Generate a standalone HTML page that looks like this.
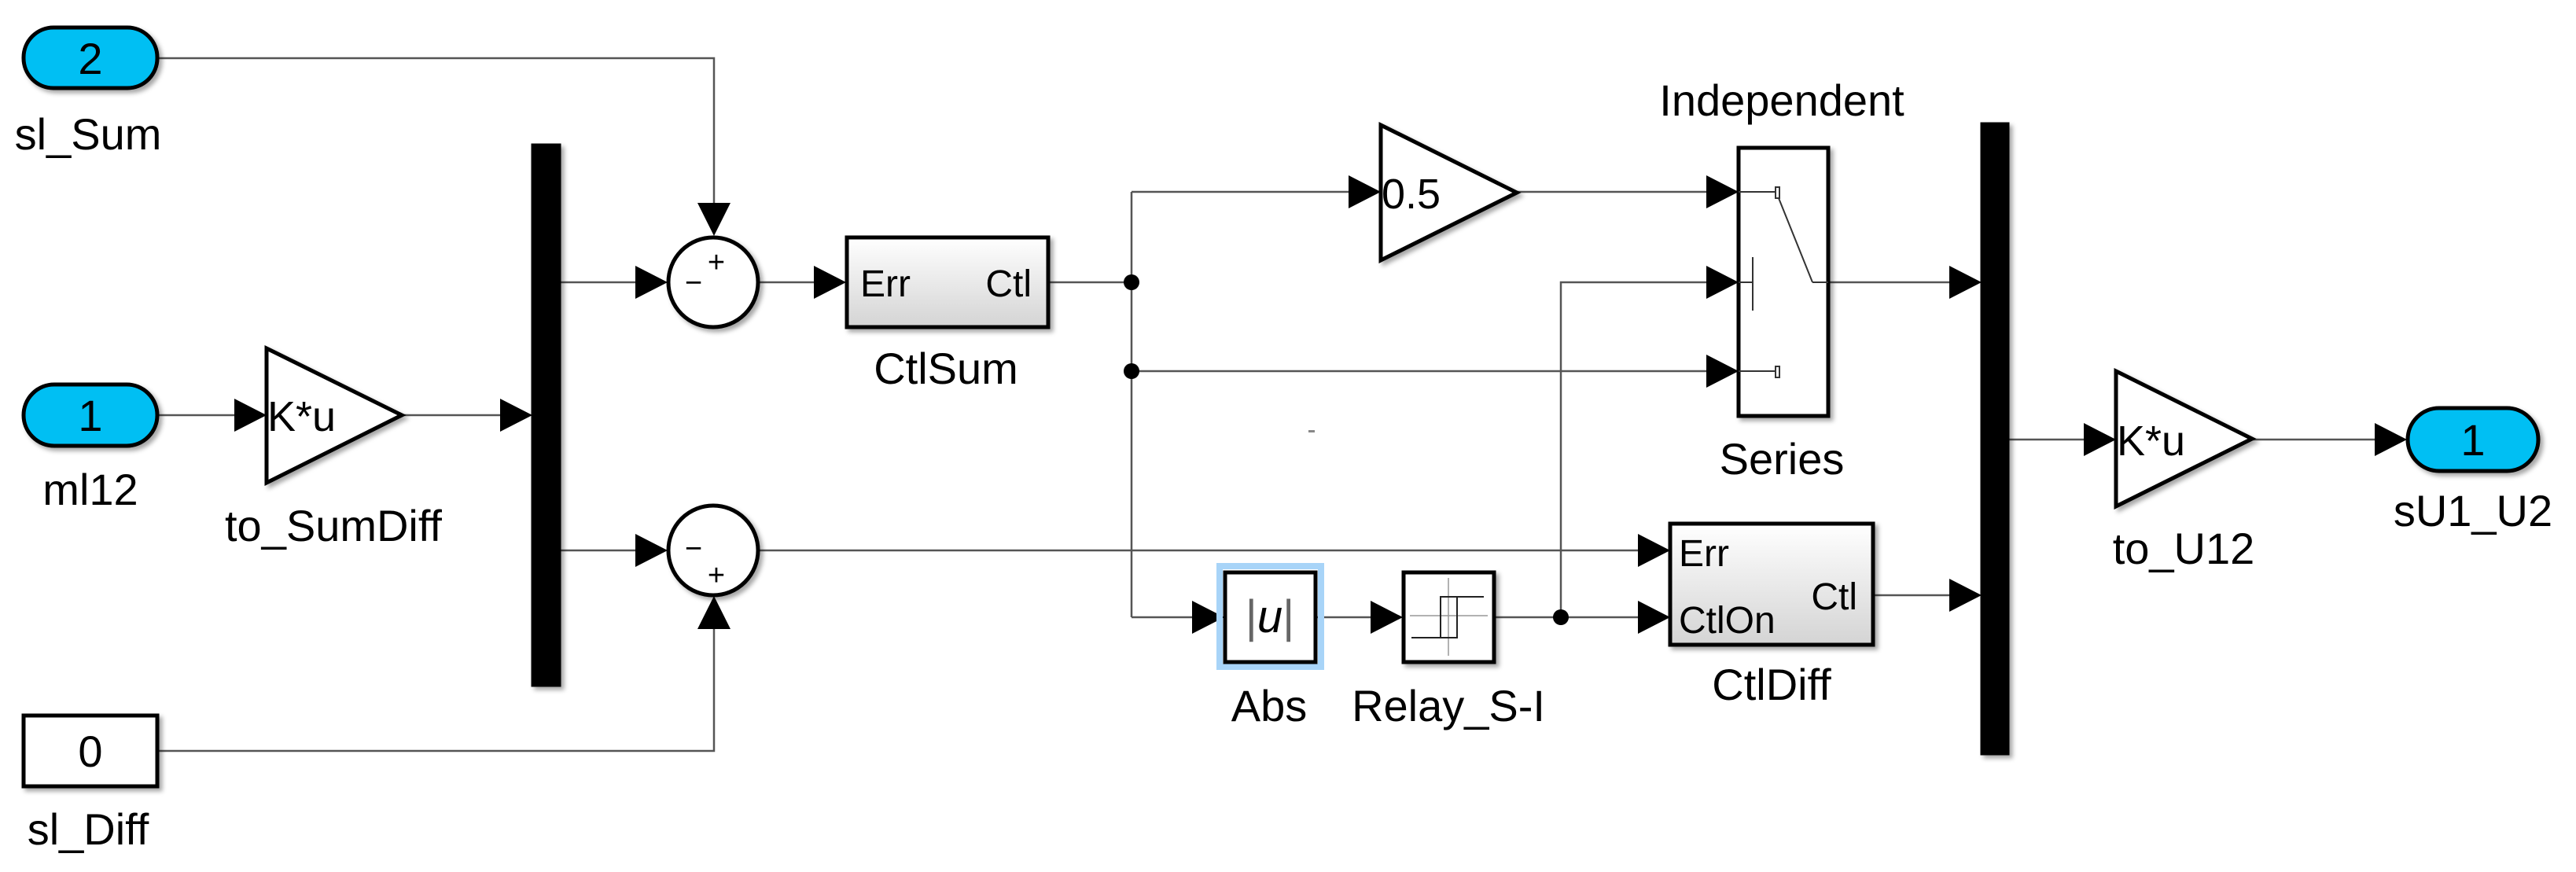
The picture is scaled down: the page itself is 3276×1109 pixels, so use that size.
<!DOCTYPE html>
<html><head><meta charset="utf-8"><style>
html,body{margin:0;padding:0;background:#fff;}
svg{display:block;}
text{font-family:"Liberation Sans",Arial,sans-serif;}
</style></head><body>
<svg width="3276" height="1109" viewBox="0 0 3276 1109" xmlns="http://www.w3.org/2000/svg">
<defs>
<linearGradient id="g" x1="0" y1="0" x2="0" y2="1"><stop offset="0" stop-color="#ffffff"/><stop offset="1" stop-color="#d4d4d4"/></linearGradient>
<filter id="sh" x="-10%" y="-10%" width="130%" height="130%"><feDropShadow dx="4" dy="4" stdDeviation="3" flood-color="#000" flood-opacity="0.35"/></filter>
</defs>
<g fill="none" stroke="#555" stroke-width="2.5">
<polyline points="200,74 908,74 908,262"/>
<line x1="200" y1="528" x2="300" y2="528"/>
<line x1="511" y1="528" x2="638" y2="528"/>
<line x1="711" y1="359" x2="810" y2="359"/>
<line x1="711" y1="700" x2="810" y2="700"/>
<polyline points="200,955 908,955 908,795"/>
<line x1="965" y1="359" x2="1037" y2="359"/>
<line x1="1333" y1="359" x2="1439" y2="359"/>
<line x1="1439" y1="244" x2="1439" y2="785"/>
<line x1="1439" y1="244" x2="1717" y2="244"/>
<line x1="1439" y1="472" x2="2172" y2="472"/>
<line x1="1439" y1="785" x2="1518" y2="785"/>
<line x1="1929" y1="244" x2="2172" y2="244"/>
<line x1="965" y1="700" x2="2085" y2="700"/>
<line x1="1673" y1="785" x2="1745" y2="785"/>
<line x1="1900" y1="785" x2="2085" y2="785"/>
<polyline points="1985,785 1985,359 2172,359"/>
<line x1="2305" y1="359" x2="2481" y2="359"/>
<line x1="2382" y1="757" x2="2481" y2="757"/>
<line x1="2553" y1="559" x2="2652" y2="559"/>
<line x1="2864" y1="559" x2="3022" y2="559"/>
</g>
<g fill="#000">
<polygon points="887,258 929,258 908,300"/>
<polygon points="298,507 339,528 298,549"/>
<polygon points="636,507 677,528 636,549"/>
<polygon points="808,338 849,359 808,380"/>
<polygon points="808,679 849,700 808,721"/>
<polygon points="887,800 929,800 908,758"/>
<polygon points="1035,338 1076,359 1035,380"/>
<polygon points="1715,223 1756,244 1715,265"/>
<polygon points="2170,223 2211,244 2170,265"/>
<polygon points="2170,338 2211,359 2170,380"/>
<polygon points="2170,451 2211,472 2170,493"/>
<polygon points="1516,764 1557,785 1516,806"/>
<polygon points="1743,764 1784,785 1743,806"/>
<polygon points="2083,679 2124,700 2083,721"/>
<polygon points="2083,764 2124,785 2083,806"/>
<polygon points="2479,338 2520,359 2479,380"/>
<polygon points="2479,736 2520,757 2479,778"/>
<polygon points="2650,538 2691,559 2650,580"/>
<polygon points="3020,538 3061,559 3020,580"/>
<circle cx="1439" cy="359" r="10"/>
<circle cx="1439" cy="472" r="10"/>
<circle cx="1985" cy="785" r="10"/>
<rect x="1664" y="547" width="8" height="3" fill="#888"/>
</g>
<g stroke="#000" stroke-width="5" filter="url(#sh)">
<rect x="30" y="35" width="170" height="77" rx="38" fill="#00bff3"/>
<rect x="30" y="489" width="170" height="78" rx="39" fill="#00bff3"/>
<rect x="30" y="910" width="170" height="90" fill="#fff"/>
<rect x="3062" y="519" width="166" height="80" rx="40" fill="#00bff3"/>
<rect x="678" y="185" width="33" height="686" fill="#000"/>
<rect x="2521" y="158" width="32" height="800" fill="#000"/>
<circle cx="907" cy="359" r="57" fill="#fff"/>
<circle cx="907" cy="700" r="57" fill="#fff"/>
<polygon points="339,443 511,528 339,614" fill="#fff"/>
<polygon points="1756,159 1929,245 1756,331" fill="#fff"/>
<polygon points="2691,472 2864,558 2691,644" fill="#fff"/>
<rect x="1077" y="302" width="256" height="114" fill="url(#g)"/>
<rect x="2124" y="666" width="258" height="154" fill="url(#g)"/>
<rect x="2211" y="188" width="114" height="341" fill="#fff"/>
<rect x="1785" y="728" width="115" height="114" fill="#fff"/>
</g>
<rect x="1551" y="720" width="129" height="128" fill="none" stroke="#a8d4f8" stroke-width="8"/>
<rect x="1558" y="728" width="115" height="114" fill="#fff" stroke="#000" stroke-width="5"/>
<g stroke="#333" stroke-width="2" fill="none">
<line x1="2211" y1="244" x2="2258" y2="244"/>
<rect x="2258" y="238" width="5" height="14"/>
<line x1="2211" y1="359" x2="2229" y2="359"/>
<line x1="2229" y1="327" x2="2229" y2="395"/>
<line x1="2211" y1="472" x2="2258" y2="472"/>
<rect x="2258" y="466" width="5" height="14"/>
<line x1="2262" y1="252" x2="2305" y2="359"/>
<line x1="2305" y1="359" x2="2325" y2="359"/>
</g>
<g fill="none">
<line x1="1842" y1="735" x2="1842" y2="834" stroke="#999" stroke-width="1.5"/>
<line x1="1793" y1="783" x2="1892" y2="783" stroke="#999" stroke-width="1.5"/>
<polyline points="1795,811 1853,811 1853,759 1832,759 1832,811" stroke="#222" stroke-width="2"/>
<line x1="1832" y1="759" x2="1887" y2="759" stroke="#222" stroke-width="2"/>
</g>
<g font-size="56" fill="#000">
<text x="115" y="94" text-anchor="middle">2</text>
<text x="115" y="548" text-anchor="middle">1</text>
<text x="115" y="975" text-anchor="middle">0</text>
<text x="3145" y="579" text-anchor="middle">1</text>
<text x="112" y="190" text-anchor="middle">sl_Sum</text>
<text x="115" y="642" text-anchor="middle">ml12</text>
<text x="112" y="1074" text-anchor="middle">sl_Diff</text>
<text x="424" y="688" text-anchor="middle">to_SumDiff</text>
<text x="340" y="548" font-size="54">K*u</text>
<text x="1757" y="265" font-size="54">0.5</text>
<text x="2692" y="579" font-size="54">K*u</text>
<text x="1094" y="377" font-size="48">Err</text>
<text x="1312" y="377" font-size="48" text-anchor="end">Ctl</text>
<text x="1203" y="488" text-anchor="middle">CtlSum</text>
<text x="2135" y="720" font-size="48">Err</text>
<text x="2135" y="805" font-size="48">CtlOn</text>
<text x="2362" y="775" font-size="48" text-anchor="end">Ctl</text>
<text x="2253" y="890" text-anchor="middle">CtlDiff</text>
<text x="1614" y="917" text-anchor="middle">Abs</text>
<text x="1842" y="917" text-anchor="middle">Relay_S-I</text>
<text x="2266" y="147" text-anchor="middle">Independent</text>
<text x="2266" y="603" text-anchor="middle">Series</text>
<text x="2777" y="717" text-anchor="middle">to_U12</text>
<text x="3145" y="669" text-anchor="middle">sU1_U2</text>
</g>
<text x="1615" y="804" text-anchor="middle" font-size="58" font-family="Liberation Serif,serif"><tspan fill="#666">|</tspan><tspan font-style="italic">u</tspan><tspan fill="#666">|</tspan></text>
<g font-size="38" fill="#000" text-anchor="middle">
<text x="911" y="346">+</text>
<text x="882" y="372">−</text>
<text x="882" y="710">−</text>
<text x="911" y="744">+</text>
</g>
</svg>
</body></html>
